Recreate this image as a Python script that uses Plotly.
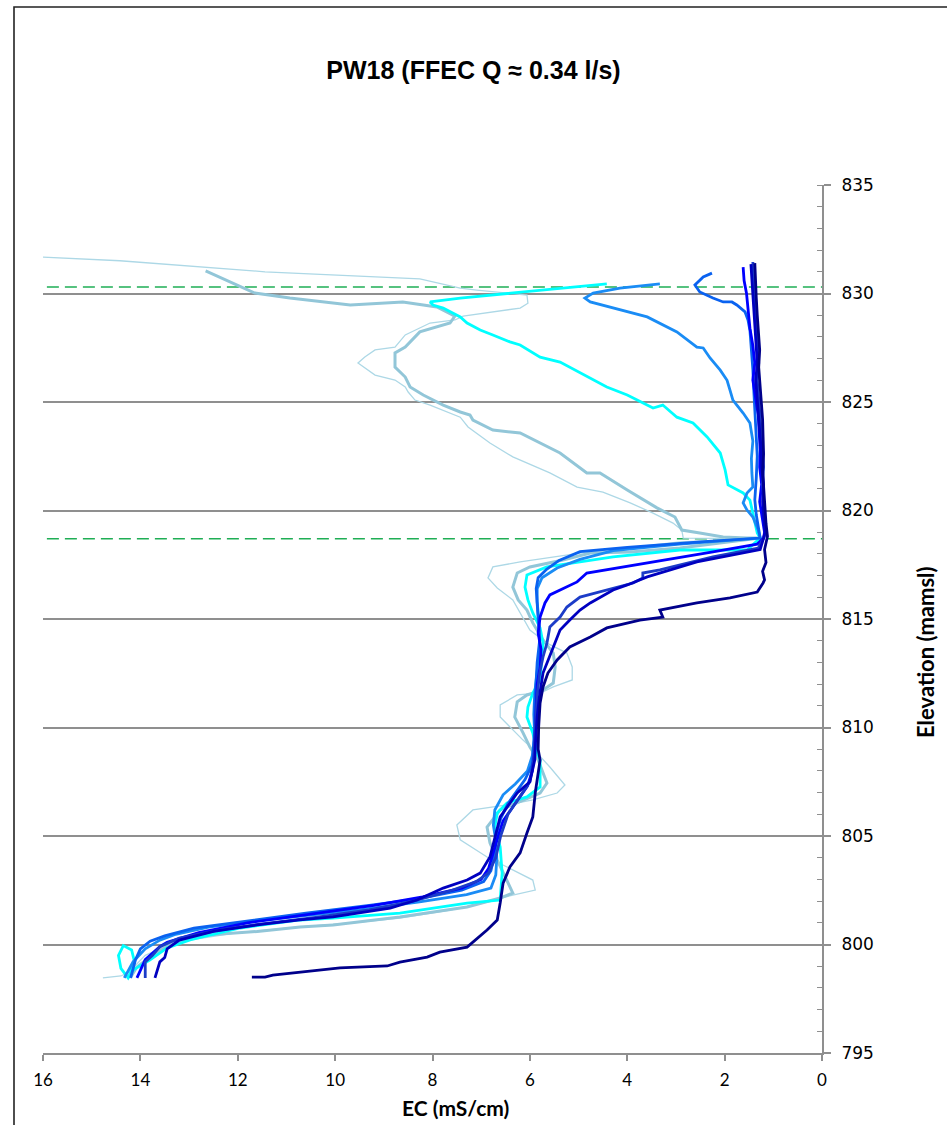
import plotly.graph_objects as go

# Fluid electrical conductivity logs, PW18 (EC in mS/cm, elevation in m amsl)
log_1 = [(16.0, 831.68), (14.42, 831.51), (11.44, 831.0), (8.26, 830.67), (7.43, 830.25),
         (7.09, 830.16), (6.06, 829.93), (6.04, 829.55), (6.20, 829.33), (7.37, 828.96),
         (7.54, 828.78), (8.05, 828.64), (8.56, 828.09), (8.77, 827.53), (9.18, 827.40),
         (9.39, 827.07), (9.53, 826.80), (9.39, 826.57), (9.18, 826.24), (8.77, 826.01),
         (8.56, 825.69), (8.50, 825.46), (8.36, 825.09), (8.05, 824.86), (7.43, 824.30),
         (7.27, 823.85), (6.82, 823.11), (6.35, 822.47), (5.59, 821.73), (5.03, 821.08),
         (4.50, 820.85), (3.94, 820.35), (3.47, 819.88), (3.06, 819.42), (2.88, 819.10),
         (2.85, 818.73), (2.0, 818.70), (1.27, 818.70), (2.92, 818.55), (4.97, 818.04),
         (6.20, 817.63), (6.76, 817.40), (6.86, 816.89), (6.67, 816.43), (6.35, 815.88),
         (6.20, 815.28), (6.00, 814.49), (5.65, 813.89), (5.24, 813.43), (5.13, 812.79),
         (5.13, 812.19), (5.52, 811.87), (5.79, 811.59), (6.26, 811.50), (6.61, 811.04),
         (6.61, 810.48), (6.41, 810.02), (6.14, 809.42), (5.85, 808.82), (5.59, 808.18),
         (5.28, 807.35), (5.44, 806.98), (5.94, 806.66), (6.47, 806.43), (7.17, 806.20),
         (7.50, 805.51), (7.43, 804.82), (6.88, 804.03), (6.47, 803.57), (5.94, 802.97),
         (5.89, 802.51), (6.35, 802.28), (6.96, 801.91), (7.64, 801.59), (8.67, 801.22),
         (9.69, 800.99), (10.72, 800.81), (12.0, 800.55), (13.3, 800.1), (13.9, 799.5),
         (14.25, 798.7), (14.4, 798.55), (14.77, 798.46)]

log_2 = [(12.66, 831.04), (11.85, 830.21), (11.65, 830.02), (10.93, 829.79), (9.69, 829.47),
         (8.61, 829.61), (7.91, 829.38), (7.54, 828.96), (7.64, 828.64), (8.26, 828.23),
         (8.56, 827.53), (8.77, 827.26), (8.77, 826.61), (8.56, 826.15), (8.46, 825.69),
         (8.19, 825.32), (7.78, 824.86), (7.43, 824.54), (7.23, 824.40), (7.17, 824.17),
         (6.76, 823.71), (6.20, 823.57), (5.38, 822.65), (4.83, 821.73), (4.56, 821.73),
         (4.00, 820.94), (3.39, 820.12), (3.02, 819.70), (2.88, 819.10), (2.51, 818.96),
         (2.03, 818.78), (1.54, 818.73), (1.27, 818.73), (2.92, 818.27), (3.94, 818.09),
         (4.76, 818.04), (5.32, 817.72), (6.00, 817.40), (6.26, 817.12), (6.35, 816.47),
         (6.24, 815.88), (6.06, 815.41), (5.94, 814.82), (5.73, 814.03), (5.52, 813.43),
         (5.48, 812.79), (5.52, 812.05), (5.73, 811.73), (6.06, 811.50), (6.26, 811.18),
         (6.31, 810.48), (6.14, 809.75), (6.00, 809.10), (5.83, 808.50), (5.65, 807.44),
         (5.79, 806.98), (6.26, 806.52), (6.61, 806.20), (6.88, 805.41), (6.82, 804.68),
         (6.67, 803.89), (6.47, 802.97), (6.35, 802.37), (6.61, 802.14), (7.29, 801.73),
         (8.67, 801.27), (10.04, 800.90), (10.72, 800.81), (11.6, 800.6), (12.63, 800.44),
         (13.33, 800.07), (13.80, 799.42), (14.07, 798.96), (14.21, 798.46)]

log_3 = [(4.42, 830.44), (6.88, 829.93), (7.43, 829.79), (8.05, 829.61), (7.99, 829.47),
         (7.78, 829.33), (7.43, 828.92), (7.29, 828.64), (7.02, 828.32), (6.76, 828.09),
         (6.41, 827.77), (6.20, 827.63), (5.79, 827.07), (5.38, 826.84), (4.97, 826.34),
         (4.70, 826.01), (4.42, 825.69), (4.00, 825.32), (3.47, 824.72), (3.27, 824.86),
         (2.98, 824.30), (2.65, 824.03), (2.36, 823.39), (2.09, 822.65), (1.99, 821.87),
         (1.93, 821.18), (1.62, 820.81), (1.48, 820.48), (1.42, 819.88), (1.33, 818.96),
         (1.27, 818.73), (1.54, 818.18), (2.92, 818.18), (4.29, 817.86), (5.65, 817.40),
         (6.06, 817.03), (6.10, 816.47), (6.04, 815.88), (5.94, 815.28), (5.79, 814.59),
         (5.73, 813.89), (5.79, 812.19), (5.94, 811.59), (6.04, 810.94), (6.06, 810.48),
         (5.94, 809.75), (5.85, 808.82), (5.79, 808.50), (5.79, 807.26), (6.06, 806.80),
         (6.47, 806.52), (6.67, 806.06), (6.72, 805.41), (6.61, 804.49), (6.57, 803.29),
         (6.61, 802.05), (7.29, 801.91), (8.67, 801.45), (10.04, 801.22), (10.72, 801.13),
         (11.95, 800.76), (12.98, 800.21), (13.45, 799.84), (13.80, 799.29), (14.15, 798.82),
         (14.25, 798.46), (14.40, 798.9), (14.45, 799.5), (14.35, 799.95), (14.18, 799.75),
         (14.12, 799.2), (14.2, 798.7), (14.25, 798.46)]

log_4 = [(3.33, 830.44), (4.15, 830.25), (4.70, 830.02), (4.87, 829.79), (4.76, 829.61),
         (4.35, 829.38), (3.59, 828.92), (2.98, 828.23), (2.57, 827.53), (2.44, 827.49),
         (2.30, 827.03), (2.09, 826.47), (1.95, 826.0), (1.89, 825.55), (1.83, 825.09),
         (1.62, 824.49), (1.48, 824.03), (1.42, 823.2), (1.45, 822.4), (1.44, 821.73),
         (1.42, 821.08), (1.54, 820.81), (1.62, 820.35), (1.54, 820.02), (1.42, 819.70),
         (1.31, 819.10), (1.27, 818.73), (2.92, 818.45), (4.29, 818.15), (4.97, 817.75),
         (5.44, 817.35), (5.75, 816.9), (5.85, 816.4), (5.85, 815.8), (5.83, 815.2),
         (5.8, 814.5), (5.8, 813.6), (5.85, 812.6), (5.9, 811.6), (5.92, 810.6),
         (5.9, 809.6), (5.95, 808.7), (6.05, 808.0), (6.3, 807.4), (6.55, 806.9),
         (6.72, 806.2), (6.75, 805.5), (6.7, 804.8), (6.68, 804.0), (6.7, 803.2),
         (6.8, 802.6), (7.3, 802.3), (8.3, 801.95), (9.5, 801.6), (10.7, 801.3),
         (11.6, 801.1), (12.6, 800.8), (13.3, 800.45), (13.6, 800.2), (13.9, 799.8),
         (14.15, 799.2), (14.3, 798.6), (14.33, 798.46)]

log_5 = [(2.26, 830.94), (2.44, 830.76), (2.61, 830.39), (2.51, 830.07), (2.24, 829.79),
         (2.03, 829.61), (1.85, 829.61), (1.75, 829.47), (1.58, 829.15), (1.52, 828.78),
         (1.48, 828.3), (1.45, 827.5), (1.42, 826.5), (1.40, 825.5), (1.38, 824.5),
         (1.35, 823.5), (1.33, 822.5), (1.35, 821.5), (1.38, 820.5), (1.35, 819.8),
         (1.30, 819.1), (1.27, 818.73), (2.5, 818.55), (4.0, 818.3), (4.97, 818.1),
         (5.4, 817.7), (5.65, 817.3), (5.83, 816.9), (5.87, 816.4), (5.85, 815.8),
         (5.83, 815.0), (5.8, 814.0), (5.85, 813.0), (5.88, 812.0), (5.9, 811.0),
         (5.9, 810.0), (5.93, 809.0), (5.95, 808.3), (6.1, 807.6), (6.3, 807.0),
         (6.45, 806.5), (6.6, 805.8), (6.7, 805.0), (6.72, 804.2), (6.8, 803.4),
         (6.95, 802.9), (7.4, 802.5), (8.3, 802.1), (9.3, 801.8), (10.6, 801.45),
         (11.8, 801.1), (12.9, 800.75), (13.5, 800.4), (13.8, 800.15), (14.0, 799.8),
         (14.1, 799.3), (14.2, 798.46)]

log_6 = [(1.62, 831.22), (1.60, 830.6), (1.55, 830.0), (1.52, 829.2), (1.48, 828.4),
         (1.42, 827.6), (1.38, 826.8), (1.42, 826.0), (1.36, 825.2), (1.31, 824.4),
         (1.29, 823.6), (1.27, 822.8), (1.28, 822.0), (1.24, 821.2), (1.28, 820.4),
         (1.22, 819.6), (1.18, 819.0), (1.20, 818.73), (1.33, 818.45), (2.24, 818.09),
         (3.59, 817.58), (4.29, 817.35), (4.83, 817.12), (5.03, 816.71), (5.38, 816.34),
         (5.59, 816.11), (5.69, 815.74), (5.79, 815.09), (5.83, 814.35), (5.77, 813.6),
         (5.79, 812.8), (5.85, 812.0), (5.87, 811.0), (5.88, 810.0), (5.9, 809.0),
         (5.95, 808.0), (6.05, 807.3), (6.3, 806.5), (6.55, 805.7), (6.65, 805.0),
         (6.75, 804.2), (6.85, 803.5), (7.0, 803.0), (7.4, 802.6), (8.2, 802.2),
         (9.2, 801.8), (10.5, 801.4), (11.8, 801.0), (12.8, 800.55), (13.45, 800.1),
         (13.6, 799.9), (13.9, 799.3), (14.07, 798.46)]

log_7 = [(1.42, 831.45), (1.40, 830.8), (1.38, 830.0), (1.36, 829.2), (1.35, 828.4),
         (1.32, 827.6), (1.30, 826.8), (1.33, 826.0), (1.30, 825.2), (1.28, 824.4),
         (1.24, 823.6), (1.22, 822.8), (1.20, 822.0), (1.22, 821.2), (1.20, 820.4),
         (1.18, 819.6), (1.15, 819.0), (1.20, 818.73), (1.31, 818.27), (2.24, 817.86),
         (3.33, 817.26), (3.68, 817.12), (3.68, 816.89), (3.88, 816.66), (4.42, 816.34),
         (4.97, 816.01), (5.24, 815.55), (5.38, 815.09), (5.59, 814.63), (5.65, 813.89),
         (5.73, 813.25), (5.8, 812.5), (5.85, 811.5), (5.88, 810.5), (5.9, 809.5),
         (5.92, 808.5), (6.0, 807.5), (6.15, 807.0), (6.30, 806.5), (6.45, 806.0),
         (6.6, 805.0), (6.7, 804.0), (6.85, 803.3), (7.1, 802.9), (7.6, 802.5),
         (8.4, 802.0), (9.3, 801.6), (10.4, 801.25), (11.5, 800.95), (12.3, 800.7),
         (13.2, 800.3), (13.6, 799.9), (13.75, 799.5), (13.9, 799.2), (13.9, 798.46)]

log_8 = [(1.46, 831.35), (1.44, 830.7), (1.42, 830.0), (1.40, 829.2), (1.38, 828.4),
         (1.36, 827.6), (1.33, 826.8), (1.36, 826.0), (1.33, 825.2), (1.30, 824.4),
         (1.27, 823.6), (1.25, 822.8), (1.24, 822.0), (1.20, 821.2), (1.22, 820.4),
         (1.20, 819.6), (1.17, 819.0), (1.20, 818.73), (1.27, 818.2), (2.57, 817.63),
         (3.59, 816.94), (4.00, 816.57), (4.29, 816.34), (4.76, 815.74), (4.97, 815.41),
         (5.18, 814.95), (5.38, 814.49), (5.52, 813.7), (5.73, 812.51), (5.8, 811.5),
         (5.85, 810.5), (5.88, 809.5), (5.9, 808.5), (6.0, 807.5), (6.26, 806.98),
         (6.61, 805.88), (6.82, 804.03), (7.02, 803.29), (7.29, 802.97), (7.78, 802.60),
         (8.32, 802.05), (8.87, 801.68), (10.04, 801.27), (10.72, 801.13), (11.6, 800.9),
         (12.5, 800.6), (13.2, 800.2), (13.45, 799.8), (13.5, 799.4), (13.6, 799.2),
         (13.7, 798.46)]

log_9 = [(1.38, 831.4), (1.37, 830.6), (1.35, 829.8), (1.33, 829.0), (1.31, 828.2),
         (1.28, 827.4), (1.30, 826.6), (1.27, 825.8), (1.25, 825.0), (1.22, 824.2),
         (1.21, 823.4), (1.20, 822.6), (1.22, 821.8), (1.20, 821.0), (1.18, 820.2),
         (1.15, 819.4), (1.12, 818.8), (1.18, 818.2), (1.15, 817.6), (1.22, 817.2),
         (1.18, 816.8), (1.21, 816.66), (1.33, 816.24), (1.89, 815.97), (2.57, 815.74),
         (2.77, 815.65), (3.33, 815.41), (3.27, 815.09), (3.74, 814.95), (4.42, 814.59),
         (4.76, 814.17), (5.18, 813.71), (5.44, 813.11), (5.63, 812.51), (5.73, 811.87),
         (5.79, 811.13), (5.82, 810.0), (5.83, 809.0), (5.79, 808.50), (5.89, 806.98),
         (5.94, 805.88), (6.06, 805.14), (6.20, 804.22), (6.41, 803.57), (6.55, 802.83),
         (6.61, 801.91), (6.67, 801.13), (6.88, 800.67), (7.29, 799.88), (7.85, 799.65),
         (8.11, 799.42), (8.67, 799.19), (8.93, 799.01), (9.90, 798.92), (11.28, 798.59),
         (11.44, 798.50), (11.71, 798.50)]

logs = [log_1, log_2, log_3, log_4, log_5, log_6, log_7, log_8, log_9]
log_colors = ["#add8e6", "#92c6d8", "#00ffff", "#1a8cf5", "#0a62f0",
              "#0000ff", "#1c3cc8", "#0000c0", "#00008b"]
log_widths = [1.3, 3.0, 2.8, 2.8, 2.8, 2.8, 2.8, 2.8, 2.8]

# Inflow/water levels marked with dashed lines
water_levels = [830.3, 818.7]
level_ec_span = [15.92, 0.0]

x_ticks = [16, 14, 12, 10, 8, 6, 4, 2, 0]
y_ticks = [795, 800, 805, 810, 815, 820, 825, 830, 835]

GRID = "#8f8f8f"

fig = go.Figure()

for lvl in water_levels:
    fig.add_trace(go.Scatter(
        x=level_ec_span, y=[lvl, lvl], mode="lines",
        line=dict(color="#1fae55", width=1.6, dash="12px,6px"),
        hoverinfo="skip", showlegend=False))

for pts, col, w in zip(logs, log_colors, log_widths):
    fig.add_trace(go.Scatter(
        x=[p[0] for p in pts], y=[p[1] for p in pts], mode="lines",
        line=dict(color=col, width=w), showlegend=False))

fig.update_layout(
    width=947, height=1125,
    margin=dict(l=43, r=125, t=185, b=72),
    paper_bgcolor="white", plot_bgcolor="white",
    title=dict(text="<b>PW18 (FFEC Q \u2248 0.34 l/s)</b>",
               x=0.5, xref="container", xanchor="center",
               y=1 - 70 / 1125, yref="container", yanchor="middle",
               font=dict(family="Liberation Sans, Arial, sans-serif", size=25, color="black")),
    xaxis=dict(
        range=[16, 0], tickvals=x_ticks, ticktext=[str(v) for v in x_ticks],
        showgrid=False, zeroline=False,
        showline=True, linecolor=GRID, linewidth=2,
        ticks="outside", ticklen=6, tickcolor=GRID, tickwidth=1.5,
        ticklabelstandoff=5,
        tickfont=dict(family="Lato, Carlito, sans-serif", size=17, color="black"),
    ),
    yaxis=dict(
        range=[795, 835], tickvals=y_ticks, side="right",
        showgrid=True, gridcolor=GRID, gridwidth=1.5, zeroline=False,
        showline=True, linecolor=GRID, linewidth=2,
        ticks="outside", ticklen=7, tickcolor=GRID, tickwidth=1.5,
        ticklabelstandoff=7,
        tickfont=dict(family="DejaVu Sans, Verdana, sans-serif", size=17, color="black"),
        minor=dict(dtick=1, ticks="inside", ticklen=5, tickcolor=GRID, tickwidth=1.2,
                   showgrid=False),
    ),
    annotations=[
        dict(text="<b>EC (mS/cm)</b>", xref="paper", yref="paper",
             x=(455 - 43) / 779, y=(1053 - 1107) / 868,
             xanchor="center", yanchor="middle", showarrow=False,
             font=dict(family="Lato, Carlito, sans-serif", size=21, color="black")),
        dict(text="<b>Elevation (mamsl)</b>", xref="paper", yref="paper",
             x=(925 - 43) / 779, y=(1053 - 652) / 868, textangle=-90,
             xanchor="center", yanchor="middle", showarrow=False,
             font=dict(family="Lato, Carlito, sans-serif", size=22, color="black")),
    ],
    shapes=[
        dict(type="rect", xref="paper", yref="paper",
             x0=(14 - 43) / 779, x1=1.6, y0=-0.5, y1=(1053 - 7) / 868,
             line=dict(color="#222222", width=1.6), fillcolor="rgba(0,0,0,0)",
             layer="above"),
    ],
)

fig.write_html("out.html")
